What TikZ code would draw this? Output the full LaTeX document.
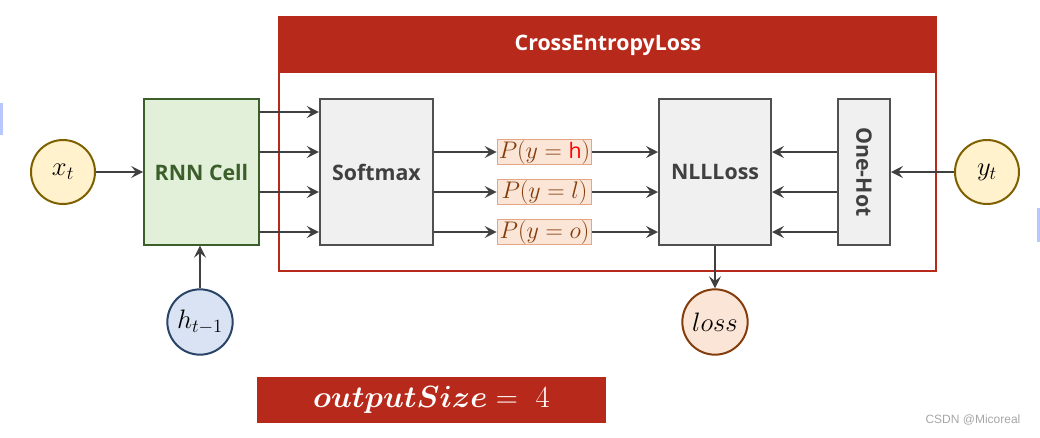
\documentclass[tikz,border=0pt]{standalone}
\usepackage{fix-cm}
\usepackage{fontspec}
\usepackage{bm}
\newfontfamily\yahei{Open Sans}
\newfontfamily\wmfont{Liberation Sans}
\usetikzlibrary{arrows.meta}
\definecolor{ceRed}{HTML}{B7291A}
\definecolor{boxLine}{HTML}{505050}
\definecolor{boxFill}{HTML}{F0F0F0}
\definecolor{arrGray}{HTML}{404040}
\definecolor{rnnFill}{HTML}{E2F0D9}
\definecolor{rnnLine}{HTML}{3B5E2B}
\definecolor{xFill}{HTML}{FFF2CC}
\definecolor{xLine}{HTML}{7F6000}
\definecolor{hFill}{HTML}{DAE3F3}
\definecolor{hLine}{HTML}{2A4468}
\definecolor{pFill}{HTML}{FBE5D6}
\definecolor{pLine}{HTML}{E3A584}
\definecolor{pText}{HTML}{843C0C}
\definecolor{barBlue}{HTML}{B8C8FF}
\begin{document}
\begin{tikzpicture}[x=0.75pt,y=-0.75pt,
	arr/.style={draw=arrGray,line width=1.7pt,-{Stealth[length=9pt,width=9pt,inset=3.5pt]}},
	grayBox/.style={draw=boxLine,fill=boxFill,line width=1.5pt,minimum height=109pt,text=arrGray,font=\yahei\bfseries\fontsize{16}{16}\selectfont},
	ioCircle/.style={circle,line width=1.5pt,minimum size=48pt,inner sep=0pt,font=\fontsize{20}{20}\selectfont},
	probBox/.style={draw=pLine,fill=pFill,line width=0.8pt,minimum width=71pt,minimum height=19pt,inner sep=0pt,text=pText,font=\fontsize{18}{18}\selectfont}]
	\useasboundingbox (0,0) rectangle (1040,437);
	\fill[barBlue] (0,103) rectangle (3,135);
	\fill[barBlue] (1037,208) rectangle (1040,242);
	\draw[ceRed,line width=2pt] (279,17) rectangle (936,271);
	\fill[ceRed] (279,17) rectangle (936,73);
	\node[text=white,font=\yahei\bfseries\fontsize{16}{16}\selectfont] (title) at (608,45) {CrossEntropyLoss};
	\node[ioCircle,draw=xLine,fill=xFill] (xt) at (63,172) {$x_t$};
	\node[grayBox,draw=rnnLine,fill=rnnFill,text=rnnLine,minimum width=86pt] (rnn) at (201.5,172) {RNN Cell};
	\node[ioCircle,draw=hLine,fill=hFill,minimum size=49pt] (ht) at (200,322) {$h_{t-1}$};
	\node[grayBox,minimum width=85pt] (soft) at (376.5,172) {Softmax};
	\node[probBox] (ph) at (544.5,152) {$P(y=\mbox{\yahei\fontsize{16}{16}\selectfont\color{red}h})$};
	\node[probBox] (pl) at (544.5,192) {$P(y=l)$};
	\node[probBox] (po) at (544.5,232) {$P(y=o)$};
	\node[grayBox,minimum width=84pt] (nll) at (715,172) {NLLLoss};
	\node[grayBox,minimum width=39pt] (onehot) at (864,172) {};
	\node[text=arrGray,font=\yahei\bfseries\fontsize{16}{16}\selectfont,rotate=-90] at (onehot) {One-Hot};
	\node[ioCircle,draw=xLine,fill=xFill] (yt) at (987,172) {$y_t$};
	\node[ioCircle,draw=pText,fill=pFill,minimum size=49pt] (loss) at (715,322) {$loss$};
	\node[fill=ceRed,text=white,minimum width=262pt,minimum height=34.5pt,font=\fontsize{23}{23}\selectfont] (outsize) at (431.5,400) {$\bm{outputSize}=\ 4$};
	\node[text=gray!70,font=\wmfont\fontsize{9}{9}\selectfont] (mark) at (973,420) {CSDN @Micoreal};
	\draw[arr] (xt) -- (rnn);
	\draw[arr] (ht) -- (ht |- rnn.south);
	\foreach \d in {45,15,-15,-45}
		\draw[arr] ([yshift=\d pt]rnn.east) -- ([yshift=\d pt]soft.west);
	\foreach \p in {ph,pl,po} {
		\draw[arr] (soft.east |- \p.west) -- (\p.west);
		\draw[arr] (\p.east) -- (nll.west |- \p.east);
		\draw[arr] (onehot.west |- \p) -- (nll.east |- \p);
	}
	\draw[arr] (yt) -- (onehot);
	\draw[arr] (nll) -- (loss);
\end{tikzpicture}
\end{document}
